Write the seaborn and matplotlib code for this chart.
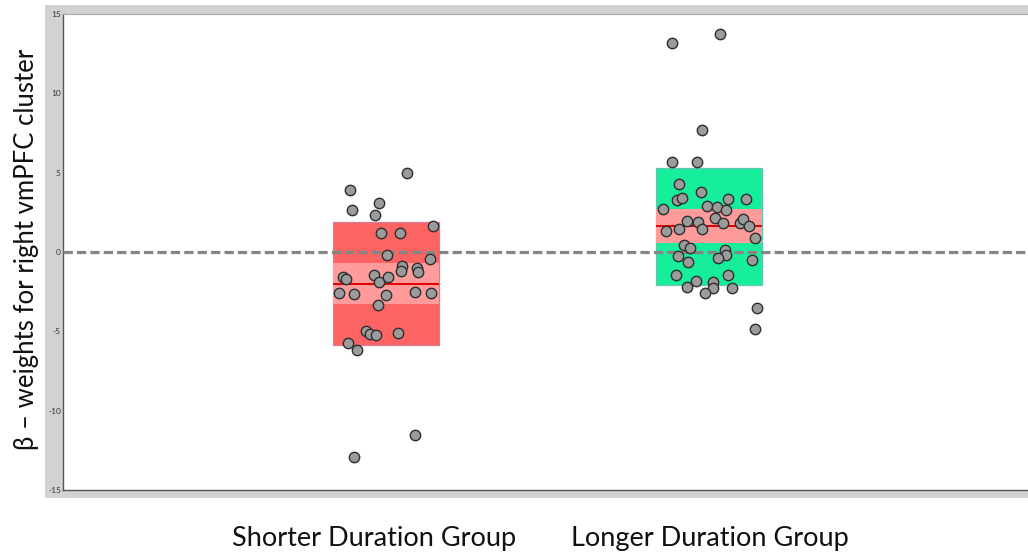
import numpy as np
import pandas as pd
import matplotlib
matplotlib.use("Agg")
import matplotlib.pyplot as plt
from matplotlib.patches import Rectangle
import seaborn as sns

# Group labels
groups = ["Shorter Duration Group", "Longer Duration Group"]

# Per-subject beta weights and their horizontal jitter (in category units)
shorter_beta = [4.97, 3.92, 2.63, 3.07, 2.34, 1.22, 1.22, 1.64, -0.19, -0.42,
                -0.86, -1.20, -1.03, -1.24, -1.56, -1.73, -1.47, -1.90, -1.56,
                -2.61, -2.65, -2.74, -2.55, -2.61, -3.35, -4.99, -5.18, -5.24,
                -5.10, -5.73, -6.19, -11.52, -12.93]
shorter_jitter = [0.064, -0.111, -0.106, -0.022, -0.033, -0.015, 0.043, 0.145,
                  0.004, 0.135, 0.049, 0.046, 0.095, 0.100, -0.134, -0.125,
                  -0.038, -0.022, 0.007, -0.145, -0.099, -0.001, 0.090, 0.140,
                  -0.025, -0.063, -0.050, -0.031, 0.038, -0.119, -0.091, 0.090,
                  -0.099]

longer_beta = [13.18, 13.71, 7.71, 5.67, 5.67, 4.30, 3.28, 3.39, 3.77, 2.72,
               2.91, 2.82, 2.65, 3.33, 3.33, 1.98, 1.92, 2.17, 1.81, 1.85, 2.06,
               1.66, 1.35, 1.45, 1.45, 0.90, 0.44, 0.25, 0.10, -0.19, -0.23,
               -0.61, -0.40, -0.51, -1.45, -1.45, -1.83, -2.19, -1.91, -2.25,
               -2.29, -2.57, -3.56, -4.88]
longer_jitter = [-0.114, 0.034, -0.023, -0.115, -0.038, -0.092, -0.100, -0.083,
                 -0.026, -0.141, -0.005, 0.024, 0.052, 0.060, 0.115, -0.069,
                 -0.033, 0.019, 0.042, 0.096, 0.106, 0.125, -0.134, -0.092,
                 -0.023, 0.143, -0.076, -0.059, 0.050, 0.053, -0.097, -0.064,
                 0.027, 0.132, -0.103, 0.060, -0.040, -0.069, 0.013, 0.011,
                 0.072, -0.012, 0.148, 0.143]

y_ticks = [-15, -10, -5, 0, 5, 10, 15]

sns.set_style("white")
plt.rcParams['font.family'] = ['Lato', 'DejaVu Sans']

fig = plt.figure(figsize=(10.28, 5.52), dpi=100)

# light grey frame behind the plotting area
fig.add_artist(Rectangle((45 / 1028, 54 / 552), 1.0, 493 / 552,
                         transform=fig.transFigure, facecolor='#d2d2d2',
                         edgecolor='none', zorder=-1))

ax = fig.add_axes([63 / 1028, 62 / 552, 969 / 1028, 476 / 552])
ax.set_facecolor('white')

box_face = ['#fc6363', '#16ee9c']
box_edge = ['#d77a95', '#66c4b0']
half_w = 0.165

data = [(shorter_beta, shorter_jitter), (longer_beta, longer_jitter)]
frames = []
for i, (vals, jit) in enumerate(data):
    v = np.asarray(vals)
    m = v.mean()
    sd = v.std(ddof=1)
    ci = 1.96 * sd / np.sqrt(len(v))
    # one standard deviation box
    ax.bar(i, 2 * sd, bottom=m - sd, width=2 * half_w, color=box_face[i],
           edgecolor=box_edge[i], linewidth=0.9, zorder=1)
    # 95% confidence band of the mean
    ax.bar(i, 2 * ci, bottom=m - ci, width=2 * half_w, color='#ff9b9b',
           edgecolor='none', zorder=2)
    ax.hlines(m, i - half_w, i + half_w, color='#e00000', lw=1.4, zorder=3)
    frames.append(pd.DataFrame({'xpos': i + np.asarray(jit), 'beta': v}))

ax.axhline(0, color='#858585', lw=2.3, ls=(0, (2.9, 1.3)), zorder=4)

df = pd.concat(frames, ignore_index=True)
sns.scatterplot(data=df, x='xpos', y='beta', s=56, color='#9b9b9b',
                edgecolor='#2e2e2e', linewidth=1.0, ax=ax, zorder=5,
                legend=False)

ax.set_xlim(-1, 2)
ax.set_ylim(-15, 15)
ax.set_xticks([0, 1], labels=['', ''])
ax.set_yticks(y_ticks, labels=[str(t) for t in y_ticks])
ax.tick_params(axis='x', direction='in', length=7, width=0.8, color='#555555')
ax.tick_params(axis='y', direction='in', length=6, width=0.8, color='#555555',
               pad=1.5, labelsize=6, labelcolor='#333333')
ax.set_xlabel('')
ax.set_ylabel('β – weights for right vmPFC cluster', fontsize=18.5,
              color='#111111')
ax.yaxis.set_label_coords(-0.025, 0.505)

# group names below the frame, aligned under each category tick
label_shift_px = [-12, 1]
for i, name in enumerate(groups):
    ax.annotate(name, xy=(i, 0), xycoords=('data', 'figure fraction'),
                xytext=(label_shift_px[i] * 0.72, 6 * 0.72),
                textcoords='offset points', ha='center', va='baseline',
                fontsize=19.5, color='#111111', annotation_clip=False)

for side in ['left', 'bottom']:
    ax.spines[side].set_color('#555555')
    ax.spines[side].set_linewidth(1.0)
ax.spines['top'].set_color('#a8a8a8')
ax.spines['top'].set_linewidth(0.8)
ax.spines['right'].set_visible(False)

fig.savefig('out.png', dpi=100)
